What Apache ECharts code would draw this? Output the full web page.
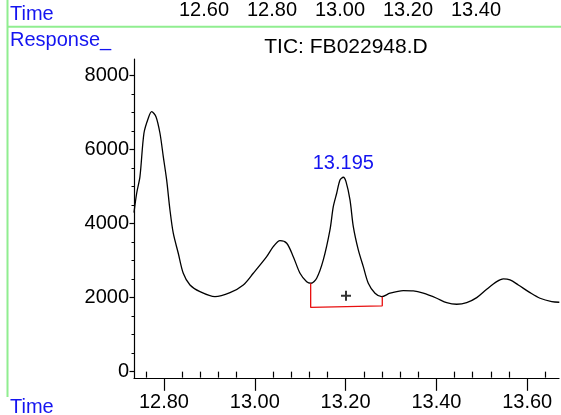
<!DOCTYPE html>
<html><head><meta charset="utf-8">
<script src="https://cdn.jsdelivr.net/npm/echarts@6/dist/echarts.min.js"></script>
<style>html,body{margin:0;padding:0;background:#fff}#c{width:561px;height:415px}</style>
</head><body><div id="c"></div>
<script>
const times = [12.734,12.7399,12.7471,12.7559,12.7654,12.7729,12.7824,12.7912,12.7985,12.8059,12.8132,12.8205,12.8315,12.8425,12.8573,12.8793,12.9123,12.9454,12.9747,12.9967,13.0262,13.0407,13.0555,13.0703,13.0848,13.0996,13.1143,13.1238,13.1363,13.1509,13.1656,13.1729,13.1804,13.1877,13.195,13.2009,13.2097,13.2170,13.2280,13.2390,13.2500,13.2648,13.2795,13.2978,13.3271,13.3491,13.3711,13.4007,13.4227,13.4447,13.4667,13.4888,13.5108,13.5328,13.5474,13.5621,13.5804,13.6062,13.6282,13.6540,13.6707];
const responses = [4300,4822,5270,6443,6848,7027,6892,6443,5811,5181,4370,3741,3200,2659,2343,2162,2027,2135,2343,2659,3108,3378,3541,3470,3108,2659,2432,2389,2524,3019,3830,4459,4822,5181,5254,5135,4641,3919,3289,2838,2389,2119,2027,2119,2189,2181,2119,1984,1865,1822,1865,2000,2227,2432,2505,2478,2343,2135,1984,1892,1876];
const yTicks = [0,2000,4000,6000,8000];
const yMinorTicks = [500,1000,1500,2500,3000,3500,4500,5000,5500,6500,7000,7500];
const xTicks = [12.8,13.0,13.2,13.4,13.6];
const xMinorTicks = [12.76,12.84,12.88,12.92,12.96,13.04,13.08,13.12,13.16,13.24,13.28,13.32,13.36,13.44,13.48,13.52,13.56,13.64];
const topTicks = [12.6,12.8,13.0,13.2,13.4];
const peakTime = 13.195, peakValue = 5254;
const bracketTimes = [13.1231,13.1231,13.2808,13.2808];
const bracketValues = [2389,1735,1779,2027];
const crossTime = 13.2009, crossValue = 2054;
const titleText = 'TIC: FB022948.D';

const FONT = '"Liberation Sans", Arial, sans-serif';
const BLUE = '#1414f0';
const GREEN = '#90ee90';
const xMin = 12.734, xMax = 13.670, yMin = -180, yMax = 8450;

const chart = echarts.init(document.getElementById('c'), null, {renderer:'canvas'});
chart.setOption({
  animation:false,
  backgroundColor:'#fff',
  textStyle:{fontFamily:FONT},
  grid:[
    {left:134, right:2, top:59, bottom:36.7},
    {left:134, right:2, top:21, height:1}
  ],
  xAxis:[
    {type:'value', gridIndex:0, position:'bottom', min:xMin, max:xMax,
     axisLine:{onZero:false, lineStyle:{color:'#000', width:1.2}},
     axisTick:{customValues:xTicks, length:12.5, lineStyle:{color:'#000', width:1.2}},
     axisLabel:{customValues:xTicks, margin:14, color:'#000', fontSize:20, fontFamily:FONT, formatter:v=>v.toFixed(2)},
     splitLine:{show:false}},
    {type:'value', gridIndex:0, position:'bottom', min:xMin, max:xMax,
     axisLine:{show:false},
     axisTick:{customValues:xMinorTicks, length:6, lineStyle:{color:'#000', width:1.2}},
     axisLabel:{show:false}, splitLine:{show:false}},
    {type:'value', gridIndex:1, position:'top', min:12.3941, max:13.6441,
     axisLine:{show:false}, axisTick:{show:false},
     axisLabel:{customValues:topTicks, margin:1, color:'#000', fontSize:20, fontFamily:FONT, formatter:v=>v.toFixed(2)},
     splitLine:{show:false}}
  ],
  yAxis:[
    {type:'value', gridIndex:0, position:'left', min:yMin, max:yMax,
     axisLine:{show:true, onZero:false, lineStyle:{color:'#000', width:1.2}},
     axisTick:{show:true, customValues:yTicks, length:4.5, lineStyle:{color:'#000', width:1.2}},
     axisLabel:{customValues:yTicks, margin:5, color:'#000', fontSize:20, fontFamily:FONT, formatter:v=>String(v)},
     splitLine:{show:false}},
    {type:'value', gridIndex:0, position:'left', min:yMin, max:yMax,
     axisLine:{show:false},
     axisTick:{show:true, customValues:yMinorTicks, length:2.5, lineStyle:{color:'#000', width:1}},
     axisLabel:{show:false}, splitLine:{show:false}},
    {type:'value', gridIndex:1, show:false, min:0, max:1}
  ],
  series:[
    {type:'line', xAxisIndex:0, yAxisIndex:0, symbol:'none', smooth:0.3,
     data: times.map((t,i)=>[t, responses[i]]),
     lineStyle:{color:'#000', width:1.3},
     markPoint:{symbol:'circle', symbolSize:0,
       data:[{coord:[peakTime, peakValue], value:peakTime}],
       label:{show:true, position:'top', distance:4, color:BLUE, fontSize:20, fontFamily:FONT,
         formatter:()=>peakTime.toFixed(3)}}},
    {type:'line', xAxisIndex:0, yAxisIndex:0, symbol:'none',
     data: bracketTimes.map((t,i)=>[t, bracketValues[i]]),
     lineStyle:{color:'#e81010', width:1.3}},
    {type:'scatter', xAxisIndex:0, yAxisIndex:0, symbol:'path://M0,5H10M5,0V10', symbolSize:10,
     data:[[crossTime, crossValue]],
     itemStyle:{color:'none', borderColor:'#000', borderWidth:2}}
  ],
  graphic:[
    {type:'line', shape:{x1:7.5, y1:0, x2:7.5, y2:397}, style:{stroke:GREEN, lineWidth:2}, silent:true},
    {type:'line', shape:{x1:7.5, y1:26.7, x2:561, y2:26.7}, style:{stroke:GREEN, lineWidth:2}, silent:true},
    {type:'text', x:10, y:14.3, style:{text:'Time', fill:BLUE, font:'20px '+FONT, verticalAlign:'middle'}},
    {type:'text', x:10, y:40.6, style:{text:'Response_', fill:BLUE, font:'20px '+FONT, verticalAlign:'middle'}},
    {type:'text', x:346, y:47, style:{text:titleText, fill:'#000', font:'21px '+FONT, align:'center', verticalAlign:'middle'}},
    {type:'text', x:10, y:407, style:{text:'Time', fill:BLUE, font:'20px '+FONT, verticalAlign:'middle'}}
  ]
});
</script></body></html>
